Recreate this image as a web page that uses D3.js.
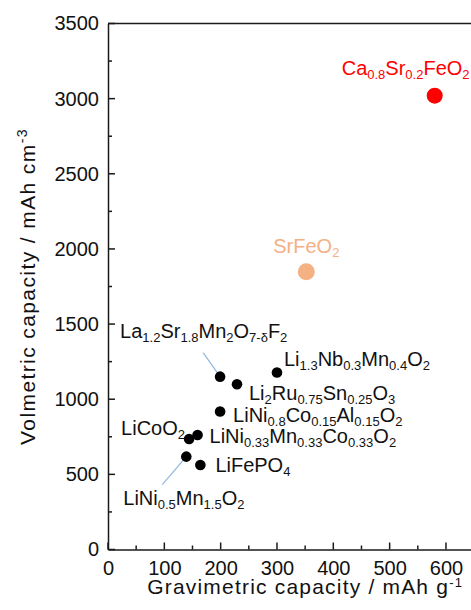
<!DOCTYPE html>
<html>
<head>
<meta charset="utf-8">
<script src="https://cdn.jsdelivr.net/npm/d3@7"></script>
<style>
  html, body { margin: 0; padding: 0; background: #fff; }
  svg { display: block; font-family: "Liberation Sans", Arial, sans-serif; }
</style>
</head>
<body>
<script>
// materials: label written as text with _{sub} for subscripts
const materials = [
    "Ca_{0.8}Sr_{0.2}FeO_{2}",
    "SrFeO_{2}",
    "La_{1.2}Sr_{1.8}Mn_{2}O_{7-δ}F_{2}",
    "Li_{1.3}Nb_{0.3}Mn_{0.4}O_{2}",
    "Li_{2}Ru_{0.75}Sn_{0.25}O_{3}",
    "LiNi_{0.8}Co_{0.15}Al_{0.15}O_{2}",
    "LiNi_{0.33}Mn_{0.33}Co_{0.33}O_{2}",
    "LiCoO_{2}",
    "LiFePO_{4}",
    "LiNi_{0.5}Mn_{1.5}O_{2}"
];
const gravimetric = [580, 352, 199, 300, 229, 199, 159, 144, 164, 139];
const volumetric  = [3020, 1848, 1150, 1178, 1100, 918, 762, 735, 562, 618];
const group = ["this", "ref", "other", "other", "other", "other", "other", "other", "other", "other"];

const xTicks = [0, 100, 200, 300, 400, 500, 600];
const yTicks = [0, 500, 1000, 1500, 2000, 2500, 3000, 3500];

// label placement (pixel offsets from the point to the label baseline start)
const labelOffsets = [
    [-93, -21], [-33, -19], [-100, -39], [7, -6], [12, 16],
    [13, 10], [12, 8], [-68, -4], [15, 7], [-63, 48]
];
// leader lines: pixel offset of the far end, or null
const leaders = [null, null, [-17, -24], null, null, null, null, null, null, [-24, 28]];

const colorOf = { this: "#ff0000", ref: "#f4b183", other: "#000000" };
const radiusOf = { this: 8, ref: 8.5, other: 5.3 };

const W = 471, H = 610;
const x = d3.scaleLinear().domain([0, 700]).range([108, 502.3]);
const y = d3.scaleLinear().domain([0, 3500]).range([549.5, 23.5]);

const svg = d3.select("body").append("svg")
    .attr("width", W)
    .attr("height", H);

const axisColor = "#1a1a1a";

// frame: left, bottom, top
svg.append("line")
    .attr("x1", x(0)).attr("x2", x(700))
    .attr("y1", y(3500)).attr("y2", y(3500))
    .attr("stroke", axisColor).attr("stroke-width", 1.5);

const xAxis = svg.append("g")
    .attr("transform", "translate(0," + y(0) + ")")
    .call(d3.axisBottom(x).tickValues(xTicks).tickSize(0).tickPadding(11).tickFormat(d3.format("d")));
const yAxis = svg.append("g")
    .attr("transform", "translate(" + x(0) + ",0)")
    .call(d3.axisLeft(y).tickValues(yTicks).tickSize(0).tickPadding(9).tickFormat(d3.format("d")));

[xAxis, yAxis].forEach(g => {
    g.select(".domain").attr("stroke", axisColor).attr("stroke-width", 1.5);
    g.selectAll("text")
        .attr("fill", "#111")
        .style("font-size", "20px")
        .style("font-family", "'Liberation Sans', Arial, sans-serif");
});

// inward ticks, major and minor
const xMinor = d3.range(0, 701, 50);
svg.append("g").selectAll("line")
    .data(xMinor)
    .enter()
    .append("line")
    .attr("x1", d => x(d)).attr("x2", d => x(d))
    .attr("y1", y(0))
    .attr("y2", d => y(0) - (d % 100 === 0 ? 7 : 4))
    .attr("stroke", axisColor).attr("stroke-width", 1.5);
const yMinor = d3.range(0, 3501, 250);
svg.append("g").selectAll("line")
    .data(yMinor)
    .enter()
    .append("line")
    .attr("y1", d => y(d)).attr("y2", d => y(d))
    .attr("x1", x(0))
    .attr("x2", d => x(0) + (d % 500 === 0 ? 7 : 4))
    .attr("stroke", axisColor).attr("stroke-width", 1.5);

// axis titles
const xTitle = svg.append("text")
    .attr("x", (x(0) + x(700)) / 2)
    .attr("y", 594)
    .attr("text-anchor", "middle")
    .style("font-size", "21px")
    .style("letter-spacing", "1.2px")
    .attr("fill", "#111");
xTitle.append("tspan").text("Gravimetric capacity / mAh g");
xTitle.append("tspan").attr("dy", -7).style("font-size", "13px").text("-1");

const yTitle = svg.append("text")
    .attr("transform", "translate(35," + (y(0) + y(3500)) / 2 + ") rotate(-90)")
    .attr("text-anchor", "middle")
    .style("font-size", "21px")
    .style("letter-spacing", "1.4px")
    .attr("fill", "#111");
yTitle.append("tspan").text("Volmetric capacity / mAh cm");
yTitle.append("tspan").attr("dy", -8).style("font-size", "14px").text("-3");

const points = materials.map((name, i) => ({
    name: name,
    g: gravimetric[i],
    v: volumetric[i],
    kind: group[i],
    off: labelOffsets[i],
    leader: leaders[i]
}));

// leader lines
svg.append("g").selectAll("line")
    .data(points.filter(p => p.leader))
    .enter()
    .append("line")
    .attr("x1", d => x(d.g)).attr("y1", d => y(d.v))
    .attr("x2", d => x(d.g) + d.leader[0]).attr("y2", d => y(d.v) + d.leader[1])
    .attr("stroke", "#8fb7dd").attr("stroke-width", 1.2);

// points
svg.append("g").selectAll("circle")
    .data(points)
    .enter()
    .append("circle")
    .attr("cx", d => x(d.g))
    .attr("cy", d => y(d.v))
    .attr("r", d => radiusOf[d.kind])
    .attr("fill", d => colorOf[d.kind]);

// labels with subscripts
const parts = s => {
    const out = [];
    const re = /_\{([^}]*)\}|([^_]+)/g;
    let m;
    while ((m = re.exec(s)) !== null) {
        if (m[1] !== undefined) out.push({ t: m[1], sub: true });
        else out.push({ t: m[2], sub: false });
    }
    return out;
};

points.forEach(p => {
    const t = svg.append("text")
        .attr("x", x(p.g) + p.off[0])
        .attr("y", y(p.v) + p.off[1])
        .attr("fill", p.kind === "other" ? "#111" : colorOf[p.kind])
        .style("font-size", "20px");
    let down = false;
    parts(p.name).forEach(seg => {
        const ts = t.append("tspan").text(seg.t);
        if (seg.sub && !down) { ts.attr("dy", 4).style("font-size", "13px"); down = true; }
        else if (seg.sub) { ts.style("font-size", "13px"); }
        else if (down) { ts.attr("dy", -4); down = false; }
    });
});
</script>
</body>
</html>
